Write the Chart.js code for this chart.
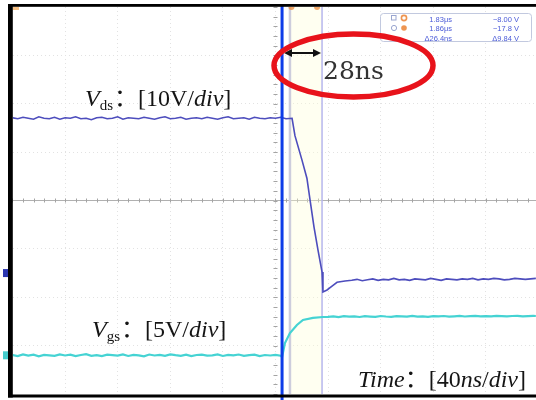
<!DOCTYPE html>
<html><head><meta charset="utf-8">
<script src="https://cdn.jsdelivr.net/npm/chart.js@4"></script>
<style>html,body{margin:0;padding:0;background:#fff}#wrap{width:536px;height:400px}</style>
</head><body><div id="wrap"><canvas id="c" width="536" height="400"></canvas></div>
<script>
// ---- data (time in ns, voltages in V) ----
const vdsTime = [0,4,8,12,16,20,24,28,32,36,40,44,48,52,56,60,64,68,72,76,80,84,88,92,96,100,104,108,112,116,120,124,128,132,136,140,144,148,152,156,160,164,168,172,176,180,184,188,192,196,200,204,208,
  212.6,214.8,220.1,223.9,226.3,229.3,232.3,235.4,236.1,239.2,243.0,246.8,252.9,
  258,262,266,270,274,278,282,286,290,294,298,302,306,310,314,318,322,326,330,334,338,342,346,350,354,358,362,366,370,374,378,382,386,390,394,398];
const vdsValues = [32.1,31.9,32.2,32.0,31.8,32.3,32.0,31.9,32.2,31.8,
  32.1,32.0,32.3,31.9,32.0,31.7,32.1,32.2,31.9,32.0,
  32.3,31.8,32.1,32.0,31.9,32.2,32.0,31.8,32.1,32.3,
  31.9,32.0,32.2,31.8,32.0,32.1,31.9,32.2,32.0,31.8,
  32.1,32.3,31.9,32.0,32.1,31.8,32.2,32.0,31.9,32.1,
  32.0,32.2,31.9,
  32.0,28.4,23.4,19.6,15.1,9.5,4.8,0.2,-3.9,-3.5,-2.7,-1.9,-1.65,
  -1.5,-1.3,-1.6,-1.4,-1.2,-1.5,-1.3,-1.4,-1.1,-1.4,-1.3,-1.5,
  -1.2,-1.3,-1.4,-1.1,-1.3,-1.5,-1.2,-1.3,-1.4,-1.2,-1.3,-1.1,
  -1.4,-1.2,-1.3,-1.1,-1.2,-1.4,-1.3,-1.1,-1.2,-1.3,-1.2,-1.1];
const vgsTime = [0,4,8,12,16,20,24,28,32,36,40,44,48,52,56,60,64,68,72,76,80,84,88,92,96,100,104,108,112,116,120,124,128,132,136,140,144,148,152,156,160,164,168,172,176,180,184,188,192,196,200,204,
  205.0,207.2,211.0,216.3,220.9,228.5,236.1,
  240,244,248,252,256,260,264,268,272,276,280,284,288,292,296,300,304,308,312,316,320,324,328,332,336,340,344,348,352,356,360,364,368,372,376,380,384,388,392,396,398];
const vgsValues = [0.02,-0.08,0.10,-0.03,0.06,-0.10,0.04,0.00,-0.06,0.09,
  -0.02,0.07,-0.09,0.03,0.11,-0.05,0.01,-0.08,0.06,0.02,
  -0.04,0.10,-0.07,0.05,0.00,-0.11,0.08,-0.02,0.04,-0.06,
  0.09,0.01,-0.05,0.07,-0.09,0.03,0.06,-0.03,0.00,0.10,
  -0.07,0.04,-0.01,0.08,-0.05,0.02,0.06,-0.08,0.03,-0.02,
  0.05,-0.04,
  -0.18,1.27,2.3,3.13,3.65,3.86,3.96,
  3.98,4.02,3.95,4.05,3.99,4.03,3.96,4.04,4.00,3.97,
  4.06,4.01,3.98,4.04,4.02,3.99,4.07,4.00,4.03,3.98,
  4.05,4.02,4.06,3.99,4.03,4.07,4.01,4.04,4.08,4.02,
  4.05,4.03,4.07,4.04,4.02,4.06,4.08,4.03,4.05,4.07,
  4.06];
const timeGridTicks = [40,80,120,160,200,240,280,320,360];
const vdsGridTicks = [-15,-5,5,15,25,35,45];
const timeCenter = 200;
const vdsCenter = 15;
const cursorTrigger = 205.0;
const cursorStart = 211.0;
const cursorEnd = 235.4;
const deltaLabel = "28ns";
const readoutRows = [["1.83μs","−8.00 V"],["1.86μs","−17.8 V"],["Δ26.4ns","Δ9.84 V"]];
const vdsLabel = [{t:"V",it:1},{t:"ds",sub:1},{t:"："},{t:"[10V/"},{t:"div",it:1},{t:"]"}];
const vgsLabel = [{t:"V",it:1},{t:"gs",sub:1},{t:"："},{t:"[5V/"},{t:"div",it:1},{t:"]"}];
const timeLabel = [{t:"Time",it:1},{t:"："},{t:"[40"},{t:"ns",it:1},{t:"/"},{t:"div",it:1},{t:"]"}];

function drawRich(ctx, x, y, segs, size){
  ctx.textBaseline = 'alphabetic'; ctx.textAlign = 'left';
  for (const s of segs){
    const fs = s.sub ? Math.round(size*0.62) : size;
    ctx.font = (s.it ? 'italic ' : '') + fs + "px 'Liberation Serif','Noto Sans CJK SC',serif";
    ctx.fillText(s.t, x, s.sub ? y + 4 : y);
    x += ctx.measureText(s.t).width + (s.sub ? 1 : 0);
  }
}

const scopePlugin = {
  id: 'scope',
  beforeDatasetsDraw(chart){
    const {ctx, chartArea:a, scales} = chart;
    const xs = scales.x, yv = scales.yVds;
    ctx.save();
    // center-line minor ticks
    ctx.strokeStyle = '#a4a4a4'; ctx.lineWidth = 1;
    const cy = yv.getPixelForValue(vdsCenter), cx = xs.getPixelForValue(timeCenter);
    ctx.beginPath();
    for (let t = 0; t <= 400; t += 8){ const px = Math.round(xs.getPixelForValue(t))+0.5; ctx.moveTo(px, cy-2); ctx.lineTo(px, cy+2); }
    for (let v = -25; v <= 55; v += 2){ const py = Math.round(yv.getPixelForValue(v))+0.5; ctx.moveTo(cx-2, py); ctx.lineTo(cx+2, py); }
    ctx.stroke();
    // cursor band and cursor lines
    const x1 = xs.getPixelForValue(cursorStart), x2 = xs.getPixelForValue(cursorEnd);
    ctx.fillStyle = 'rgba(255,255,215,0.35)';
    ctx.fillRect(x1, a.top, x2-x1, a.bottom-a.top);
    ctx.strokeStyle = '#cdcddc'; ctx.lineWidth = 2.5;
    ctx.beginPath(); ctx.moveTo(x1, a.top); ctx.lineTo(x1, a.bottom); ctx.stroke();
    ctx.strokeStyle = '#b6b6ee'; ctx.lineWidth = 1.5;
    ctx.beginPath(); ctx.moveTo(x2, a.top); ctx.lineTo(x2, a.bottom); ctx.stroke();
    // orange cursor handles
    ctx.fillStyle = 'rgba(238,140,60,0.75)';
    [x1+1.5, x2-5].forEach(px => { ctx.beginPath(); ctx.arc(px, 7, 3, 0, Math.PI); ctx.fill(); });
    ctx.restore();
  },
  afterDatasetsDraw(chart){
    const {ctx, chartArea:a, scales} = chart;
    const xs = scales.x;
    ctx.save();
    // trigger cursor
    const xb = xs.getPixelForValue(cursorTrigger);
    ctx.strokeStyle = '#0d3ce8'; ctx.lineWidth = 3;
    ctx.beginPath(); ctx.moveTo(xb, 5); ctx.lineTo(xb, 400); ctx.stroke();
    // channel ground markers
    ctx.fillStyle = '#2a35b0';
    ctx.fillRect(3, scales.yVds.getPixelForValue(0)-4, 5, 8);
    ctx.fillStyle = '#44cccc';
    ctx.fillRect(3, scales.yVgs.getPixelForValue(0)-4, 5, 8);
    ctx.fillStyle = 'rgba(240,150,50,0.6)';
    ctx.fillRect(13, 7, 6, 3);
    // frame
    ctx.fillStyle = '#000';
    ctx.fillRect(8, 4, 4.8, 393.5);
    ctx.fillRect(8, 4, 528, 2.8);
    ctx.fillRect(8, 394.5, 528, 3);
    // readout box
    ctx.fillStyle = '#fff'; ctx.strokeStyle = '#c2c9df'; ctx.lineWidth = 1;
    ctx.beginPath(); ctx.roundRect(380.5, 13.5, 151, 28, 3); ctx.fill(); ctx.stroke();
    ctx.strokeStyle = '#9aa6d0';
    ctx.strokeRect(391.5, 15.5, 4.5, 4.5);
    ctx.beginPath(); ctx.arc(394, 28, 2.6, 0, 2*Math.PI); ctx.stroke();
    ctx.strokeStyle = 'rgba(235,130,50,0.85)'; ctx.lineWidth = 1.6;
    ctx.beginPath(); ctx.arc(404, 18, 2.6, 0, 2*Math.PI); ctx.stroke();
    ctx.fillStyle = 'rgba(235,130,50,0.85)';
    ctx.beginPath(); ctx.arc(404, 28, 2.8, 0, 2*Math.PI); ctx.fill();
    ctx.fillStyle = '#4a5ad8'; ctx.font = "7.5px 'Liberation Sans',sans-serif"; ctx.textAlign = 'right';
    readoutRows.forEach((r,i) => { const by = 21.5 + i*9.5; ctx.fillText(r[0], 452, by); ctx.fillText(r[1], 519, by); });
    // labels
    ctx.fillStyle = '#151515';
    drawRich(ctx, 85, 106, vdsLabel, 24);
    drawRich(ctx, 92, 337, vgsLabel, 24);
    drawRich(ctx, 358, 387, timeLabel, 24);
    // 28ns annotation
    ctx.fillStyle = '#333'; ctx.textAlign = 'left';
    ctx.font = "25px 'DejaVu Serif',serif";
    ctx.fillText(deltaLabel, 323, 79);
    ctx.strokeStyle = '#111'; ctx.fillStyle = '#111'; ctx.lineWidth = 2;
    const ay = 53, l = 284, r = 321;
    ctx.beginPath(); ctx.moveTo(l+5, ay); ctx.lineTo(r-5, ay); ctx.stroke();
    ctx.beginPath(); ctx.moveTo(l, ay); ctx.lineTo(l+8, ay-4); ctx.lineTo(l+8, ay+4); ctx.closePath(); ctx.fill();
    ctx.beginPath(); ctx.moveTo(r, ay); ctx.lineTo(r-8, ay-4); ctx.lineTo(r-8, ay+4); ctx.closePath(); ctx.fill();
    ctx.strokeStyle = '#e8131b'; ctx.lineWidth = 5.5;
    ctx.beginPath(); ctx.ellipse(353.5, 65.5, 79.5, 31.5, 0, 0, 2*Math.PI); ctx.stroke();
    ctx.restore();
  }
};

const gridOpts = (center, centerColor) => ({
  grid: { drawTicks:false, lineWidth:1, color: c => (c.tick && c.tick.value === center) ? centerColor : '#e2e2e2' },
  border: { display:false, dash: c => (c.tick && c.tick.value === center && centerColor !== '#e2e2e2') ? [] : [1,3] }
  ,ticks: { display:false }
});

new Chart(document.getElementById('c'), {
  type: 'line',
  data: { datasets: [
    { label:'Vds', data: vdsTime.map((t,i)=>({x:t, y:vdsValues[i]})), yAxisID:'yVds', borderColor:'#4d4dbd', borderWidth:1.6, pointRadius:0, tension:0 },
    { label:'Vgs', data: vgsTime.map((t,i)=>({x:t, y:vgsValues[i]})), yAxisID:'yVgs', borderColor:'#45d3d3', borderWidth:2.2, pointRadius:0, tension:0 }
  ]},
  options: {
    responsive:false, animation:false, devicePixelRatio:1,
    layout: { padding: { left:13, top:7, right:0, bottom:6 } },
    plugins: { legend:{display:false}, tooltip:{enabled:false} },
    scales: {
      x: Object.assign({ type:'linear', min:0.4, max:398.1, afterBuildTicks: s => { s.ticks = timeGridTicks.map(v=>({value:v})); } }, gridOpts(timeCenter, '#e2e2e2')),
      yVds: Object.assign({ type:'linear', position:'left', min:-25, max:55, afterBuildTicks: s => { s.ticks = vdsGridTicks.map(v=>({value:v})); } }, gridOpts(vdsCenter, '#b0b0b0')),
      yVgs: { type:'linear', display:false, min:-4, max:36 }
    }
  },
  plugins: [scopePlugin]
});
</script>
</body></html>
